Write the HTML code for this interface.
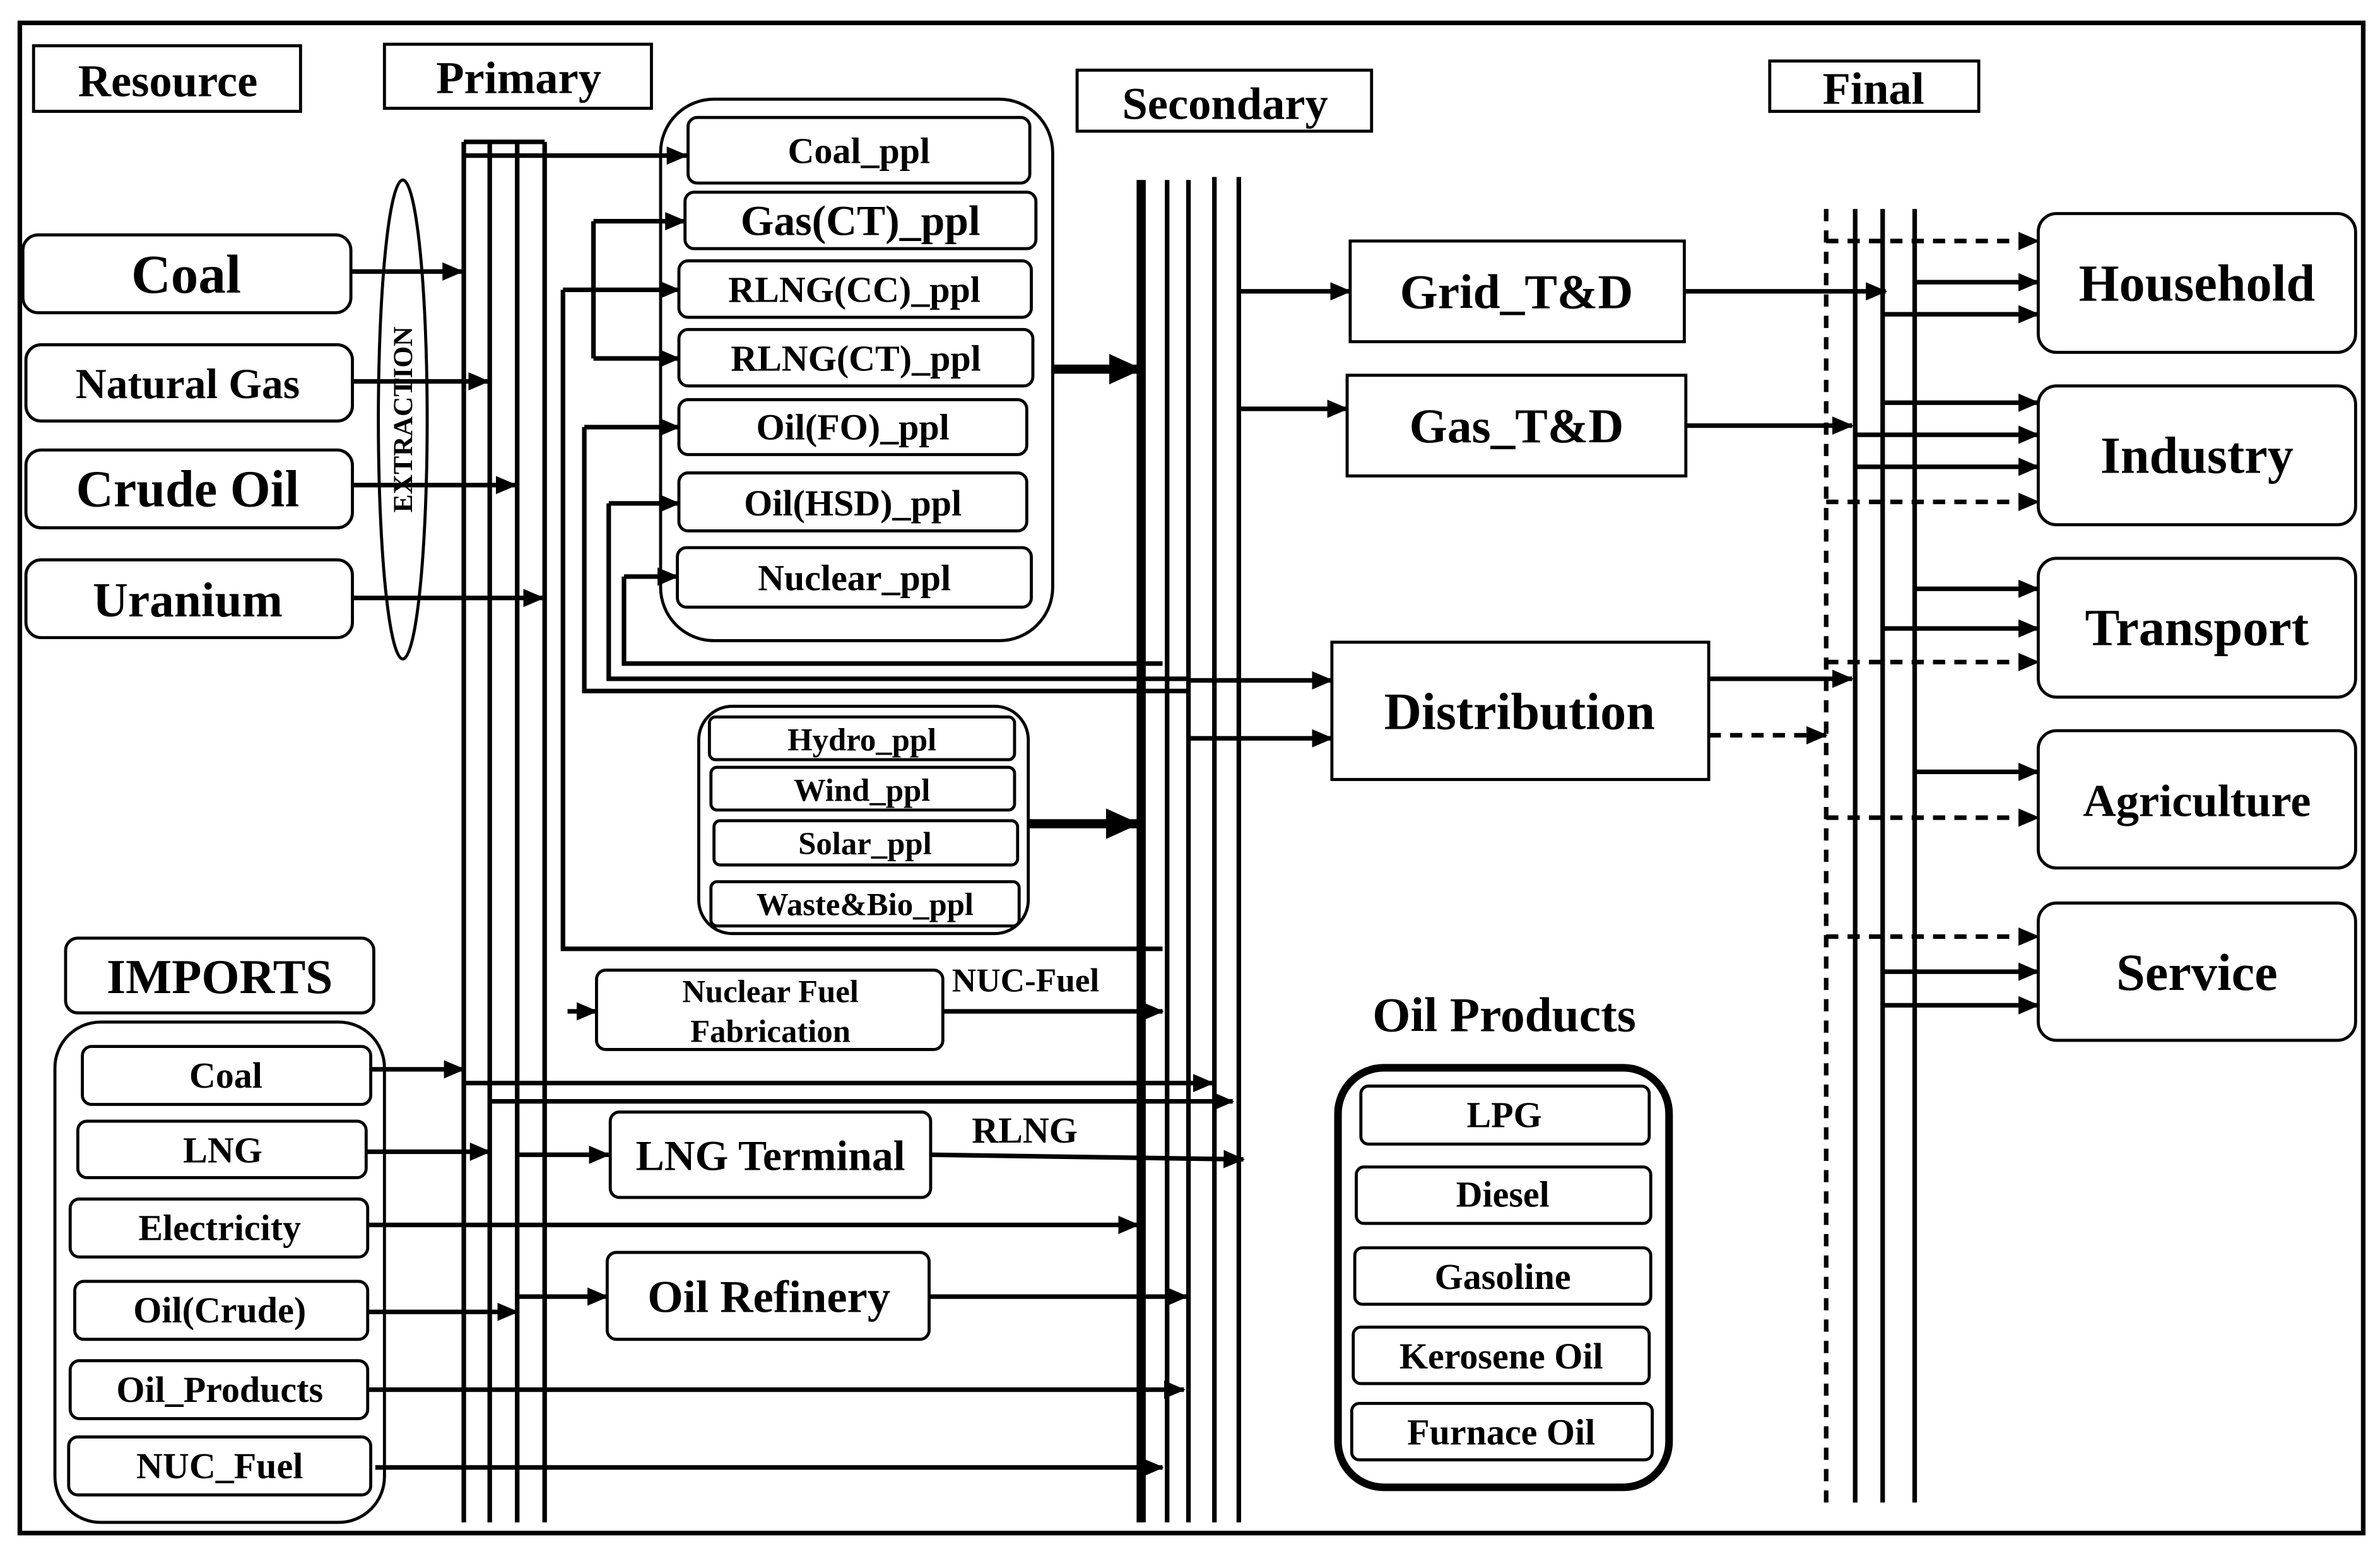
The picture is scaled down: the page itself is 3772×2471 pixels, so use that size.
<!DOCTYPE html>
<html><head><meta charset="utf-8"><style>
html,body{margin:0;padding:0;background:#fff;}
svg{display:block;}
text{font-family:"Liberation Serif",serif;font-weight:bold;fill:#000;}
</style></head><body>
<svg width="3772" height="2471" viewBox="0 0 1560 1022" preserveAspectRatio="none" xmlns="http://www.w3.org/2000/svg">
<defs>
<marker id="a" markerUnits="userSpaceOnUse" markerWidth="14" markerHeight="12" refX="13" refY="6" orient="auto"><path d="M0,0 L14,6 L0,12 z" fill="#000"/></marker>
<marker id="b" markerUnits="userSpaceOnUse" markerWidth="22" markerHeight="20" refX="21" refY="10" orient="auto"><path d="M0,0 L22,10 L0,20 z" fill="#000"/></marker>
</defs>
<rect x="0" y="0" width="1560" height="1022" fill="#fff"/>
<rect x="13" y="15" width="1536" height="990" fill="none" stroke="#000" stroke-width="3"/>

<g fill="none" stroke="#000" stroke-width="2">
<rect x="22" y="30" width="175" height="43"/>
<rect x="252" y="29" width="175" height="42"/>
<rect x="706" y="46" width="193" height="40"/>
<rect x="1160" y="40" width="137" height="33"/>
</g>
<g font-size="30" text-anchor="middle">
<text x="110" y="63">Resource</text>
<text x="340" y="61">Primary</text>
<text x="803" y="78">Secondary</text>
<text x="1228" y="68">Final</text>
</g>

<!-- resources -->
<g fill="none" stroke="#000" stroke-width="2">
<rect x="15" y="154" width="215" height="51" rx="10"/>
<rect x="17" y="226" width="214" height="50" rx="10"/>
<rect x="17" y="295" width="214" height="51" rx="10"/>
<rect x="17" y="367" width="214" height="51" rx="10"/>
<ellipse cx="264" cy="275" rx="16" ry="157"/>
</g>
<g text-anchor="middle">
<text x="122" y="192" font-size="36">Coal</text>
<text x="123" y="261" font-size="28">Natural Gas</text>
<text x="123" y="332" font-size="34">Crude Oil</text>
<text x="123" y="404" font-size="32">Uranium</text>
<text transform="translate(270,275) rotate(-90)" font-size="18" font-weight="normal">EXTRACTION</text>
</g>

<g stroke="#000" stroke-width="3" fill="none">
<!-- primary lines -->
<line x1="304" y1="93" x2="304" y2="998"/>
<line x1="321" y1="93" x2="321" y2="998"/>
<line x1="339" y1="93" x2="339" y2="998"/>
<line x1="357" y1="93" x2="357" y2="998"/>
<line x1="304" y1="93" x2="357" y2="93"/>
<!-- secondary lines -->
<line x1="748" y1="118" x2="748" y2="998" stroke-width="6"/>
<line x1="765" y1="118" x2="765" y2="998"/>
<line x1="779" y1="118" x2="779" y2="998"/>
<line x1="796" y1="116" x2="796" y2="998"/>
<line x1="812" y1="116" x2="812" y2="998"/>
<!-- final lines -->
<line x1="1197" y1="137" x2="1197" y2="985" stroke-dasharray="8,6"/>
<line x1="1216" y1="137" x2="1216" y2="985"/>
<line x1="1234" y1="137" x2="1234" y2="985"/>
<line x1="1255" y1="137" x2="1255" y2="985"/>
</g>

<g stroke="#000" stroke-width="3" fill="none" marker-end="url(#a)">
<line x1="230" y1="178" x2="303" y2="178"/>
<line x1="231" y1="250" x2="320" y2="250"/>
<line x1="231" y1="318" x2="338" y2="318"/>
<line x1="231" y1="392" x2="356" y2="392"/>
<line x1="304" y1="102" x2="450" y2="102"/>
<line x1="389" y1="145" x2="449" y2="145"/>
<line x1="389" y1="235" x2="445" y2="235"/>
<line x1="369" y1="190" x2="445" y2="190"/>
<line x1="383" y1="280" x2="445" y2="280"/>
<line x1="399" y1="330" x2="445" y2="330"/>
<line x1="409" y1="378" x2="444" y2="378"/>
<line x1="372" y1="663" x2="391" y2="663"/>
<line x1="618" y1="663" x2="762" y2="663"/>
<line x1="243" y1="701" x2="304" y2="701"/>
<line x1="304" y1="710" x2="795" y2="710"/>
<line x1="321" y1="722" x2="808" y2="722"/>
<line x1="240" y1="755" x2="321" y2="755"/>
<line x1="339" y1="757" x2="399" y2="757"/>
<line x1="610" y1="757" x2="815" y2="760"/>
<line x1="241" y1="803" x2="746" y2="803"/>
<line x1="241" y1="860" x2="339" y2="860"/>
<line x1="339" y1="850" x2="398" y2="850"/>
<line x1="609" y1="850" x2="778" y2="850"/>
<line x1="241" y1="911" x2="776" y2="911"/>
<line x1="246" y1="962" x2="762" y2="962"/>
<line x1="812" y1="191" x2="885" y2="191"/>
<line x1="812" y1="268" x2="883" y2="268"/>
<line x1="779" y1="446" x2="873" y2="446"/>
<line x1="779" y1="484" x2="873" y2="484"/>
<line x1="1104" y1="191" x2="1236" y2="191"/>
<line x1="1105" y1="279" x2="1214" y2="279"/>
<line x1="1120" y1="445" x2="1214" y2="445"/>
<line x1="1120" y1="482" x2="1197" y2="482" stroke-dasharray="8,6"/>
<!-- sector arrows -->
<line x1="1197" y1="158" x2="1336" y2="158" stroke-dasharray="8,6"/>
<line x1="1255" y1="185" x2="1336" y2="185"/>
<line x1="1234" y1="206" x2="1336" y2="206"/>
<line x1="1234" y1="264" x2="1336" y2="264"/>
<line x1="1216" y1="285" x2="1336" y2="285"/>
<line x1="1216" y1="306" x2="1336" y2="306"/>
<line x1="1197" y1="329" x2="1336" y2="329" stroke-dasharray="8,6"/>
<line x1="1255" y1="386" x2="1336" y2="386"/>
<line x1="1234" y1="412" x2="1336" y2="412"/>
<line x1="1197" y1="434" x2="1336" y2="434" stroke-dasharray="8,6"/>
<line x1="1255" y1="506" x2="1336" y2="506"/>
<line x1="1197" y1="536" x2="1336" y2="536" stroke-dasharray="8,6"/>
<line x1="1197" y1="614" x2="1336" y2="614" stroke-dasharray="8,6"/>
<line x1="1234" y1="637" x2="1336" y2="637"/>
<line x1="1234" y1="659" x2="1336" y2="659"/>
</g>
<g stroke="#000" stroke-width="6" fill="none" marker-end="url(#b)">
<line x1="690" y1="242" x2="748" y2="242"/>
<line x1="674" y1="540" x2="746" y2="540"/>
</g>
<g stroke="#000" stroke-width="3" fill="none">
<line x1="389" y1="145" x2="389" y2="235"/>
<polyline points="369,190 369,622 762,622"/>
<polyline points="383,280 383,453 778,453"/>
<polyline points="399,330 399,445 778,445"/>
<polyline points="409,378 409,435 762,435"/>
</g>

<!-- power plants -->
<g fill="none" stroke="#000" stroke-width="2">
<rect x="433" y="65" width="257" height="355" rx="35"/>
<rect x="451" y="77" width="224" height="43" rx="6"/>
<rect x="449" y="126" width="230" height="37" rx="6"/>
<rect x="445" y="171" width="231" height="37" rx="6"/>
<rect x="445" y="216" width="232" height="37" rx="6"/>
<rect x="445" y="262" width="228" height="36" rx="6"/>
<rect x="445" y="310" width="228" height="38" rx="6"/>
<rect x="444" y="359" width="232" height="39" rx="6"/>
<rect x="458" y="463" width="216" height="149" rx="22"/>
<rect x="465" y="470" width="200" height="28" rx="4"/>
<rect x="466" y="503" width="199" height="28" rx="4"/>
<rect x="468" y="538" width="199" height="29" rx="4"/>
<rect x="466" y="578" width="202" height="29" rx="4"/>
<rect x="391" y="636" width="227" height="52" rx="6"/>
<rect x="400" y="729" width="210" height="56" rx="6"/>
<rect x="398" y="821" width="211" height="57" rx="6"/>
</g>
<g text-anchor="middle">
<text x="563" y="107" font-size="24">Coal_ppl</text>
<text x="564" y="154" font-size="28">Gas(CT)_ppl</text>
<text x="560" y="198" font-size="24">RLNG(CC)_ppl</text>
<text x="561" y="243" font-size="24">RLNG(CT)_ppl</text>
<text x="559" y="288" font-size="24">Oil(FO)_ppl</text>
<text x="559" y="338" font-size="24">Oil(HSD)_ppl</text>
<text x="560" y="387" font-size="24">Nuclear_ppl</text>
<text x="565" y="492" font-size="21">Hydro_ppl</text>
<text x="565" y="525" font-size="21">Wind_ppl</text>
<text x="567" y="560" font-size="21">Solar_ppl</text>
<text x="567" y="600" font-size="21">Waste&amp;Bio_ppl</text>
<text x="505" y="657" font-size="21">Nuclear Fuel</text>
<text x="505" y="683" font-size="21">Fabrication</text>
<text x="505" y="767" font-size="28">LNG Terminal</text>
<text x="504" y="860" font-size="30">Oil Refinery</text>
</g>
<text x="624" y="650" font-size="22" font-weight="normal">NUC-Fuel</text>
<text x="637" y="749" font-size="24" font-weight="normal">RLNG</text>

<!-- imports -->
<g fill="none" stroke="#000" stroke-width="2">
<rect x="43" y="615" width="202" height="49" rx="8"/>
<rect x="36" y="670" width="216" height="328" rx="30"/>
<rect x="54" y="686" width="189" height="38" rx="6"/>
<rect x="51" y="735" width="189" height="37" rx="6"/>
<rect x="46" y="786" width="195" height="38" rx="6"/>
<rect x="49" y="840" width="192" height="38" rx="6"/>
<rect x="46" y="892" width="195" height="38" rx="6"/>
<rect x="45" y="942" width="198" height="38" rx="6"/>
</g>
<g text-anchor="middle">
<text x="144" y="651" font-size="32">IMPORTS</text>
<text x="148" y="713" font-size="24">Coal</text>
<text x="146" y="762" font-size="24">LNG</text>
<text x="144" y="813" font-size="24">Electricity</text>
<text x="144" y="867" font-size="24">Oil(Crude)</text>
<text x="144" y="919" font-size="24">Oil_Products</text>
<text x="144" y="969" font-size="24">NUC_Fuel</text>
</g>

<!-- T&D -->
<g fill="none" stroke="#000" stroke-width="2">
<rect x="885" y="158" width="219" height="66"/>
<rect x="883" y="246" width="222" height="66"/>
<rect x="873" y="421" width="247" height="90"/>
</g>
<g text-anchor="middle">
<text x="994" y="202" font-size="32">Grid_T&amp;D</text>
<text x="994" y="290" font-size="32">Gas_T&amp;D</text>
<text x="996" y="478" font-size="34">Distribution</text>
</g>

<!-- sectors -->
<g fill="none" stroke="#000" stroke-width="2">
<rect x="1336" y="140" width="208" height="91" rx="12"/>
<rect x="1336" y="253" width="208" height="91" rx="12"/>
<rect x="1336" y="366" width="208" height="91" rx="12"/>
<rect x="1336" y="479" width="208" height="90" rx="12"/>
<rect x="1336" y="592" width="208" height="90" rx="12"/>
</g>
<g text-anchor="middle">
<text x="1440" y="197" font-size="34">Household</text>
<text x="1440" y="310" font-size="34">Industry</text>
<text x="1440" y="423" font-size="34">Transport</text>
<text x="1440" y="535" font-size="30">Agriculture</text>
<text x="1440" y="649" font-size="34">Service</text>
</g>

<!-- oil products -->
<text x="986" y="676" font-size="32" text-anchor="middle">Oil Products</text>
<g fill="none" stroke="#000">
<rect x="877" y="700" width="217" height="275" rx="30" stroke-width="5"/>
<g stroke-width="2">
<rect x="892" y="712" width="189" height="38" rx="5"/>
<rect x="889" y="765" width="193" height="37" rx="5"/>
<rect x="888" y="818" width="194" height="37" rx="5"/>
<rect x="887" y="870" width="194" height="37" rx="5"/>
<rect x="886" y="920" width="197" height="37" rx="5"/>
</g>
</g>
<g text-anchor="middle" font-size="24">
<text x="986" y="739">LPG</text>
<text x="985" y="791">Diesel</text>
<text x="985" y="845">Gasoline</text>
<text x="984" y="897">Kerosene Oil</text>
<text x="984" y="947">Furnace Oil</text>
</g>
</svg>
</body></html>
